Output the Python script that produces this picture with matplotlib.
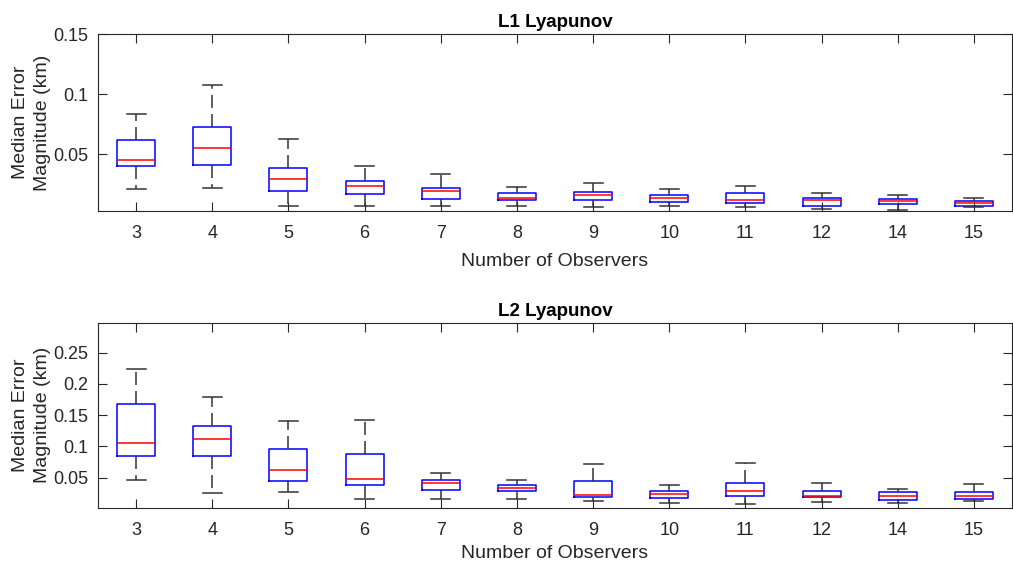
"""Box plots of median position error against observer count for L1/L2 Lyapunov orbits."""
import matplotlib
matplotlib.use("Agg")
import matplotlib.pyplot as plt

plt.rcParams["font.family"] = ["Liberation Sans", "DejaVu Sans"]

observers = ["3", "4", "5", "6", "7", "8", "9", "10", "11", "12", "14", "15"]

# L1 Lyapunov: box statistics per observer count (km)
l1_low = [0.0213, 0.0222, 0.0069, 0.0067, 0.0069, 0.0067, 0.0058, 0.0069, 0.0058, 0.0047, 0.0036, 0.0058]
l1_q1 = [0.0403, 0.0413, 0.0197, 0.0167, 0.0125, 0.0117, 0.0119, 0.0103, 0.0092, 0.0069, 0.0088, 0.0072]
l1_med = [0.0455, 0.0553, 0.0294, 0.0238, 0.0192, 0.0138, 0.0161, 0.0133, 0.0119, 0.0122, 0.0111, 0.0092]
l1_q3 = [0.0617, 0.0728, 0.0386, 0.0275, 0.0219, 0.0180, 0.0183, 0.0161, 0.0180, 0.0138, 0.0130, 0.0111]
l1_high = [0.0833, 0.1075, 0.0625, 0.0400, 0.0338, 0.0230, 0.0258, 0.0211, 0.0233, 0.0180, 0.0161, 0.0138]

# L2 Lyapunov
l2_low = [0.0464, 0.0261, 0.0267, 0.0160, 0.0160, 0.0155, 0.0123, 0.0101, 0.0085, 0.0117, 0.0101, 0.0123]
l2_q1 = [0.0853, 0.0853, 0.0443, 0.0384, 0.0309, 0.0288, 0.0192, 0.0171, 0.0203, 0.0192, 0.0144, 0.0165]
l2_med = [0.1056, 0.1115, 0.0629, 0.0485, 0.0411, 0.0341, 0.0224, 0.0240, 0.0288, 0.0213, 0.0208, 0.0203]
l2_q3 = [0.1680, 0.1323, 0.0960, 0.0875, 0.0459, 0.0379, 0.0453, 0.0293, 0.0421, 0.0288, 0.0272, 0.0277]
l2_high = [0.2235, 0.1797, 0.1408, 0.1429, 0.0576, 0.0459, 0.0725, 0.0389, 0.0736, 0.0411, 0.0325, 0.0405]

TICK_COL = "#262626"


def make_stats(low, q1, med, q3, high):
    return [dict(whislo=a, q1=b, med=c, q3=d, whishi=e, fliers=[])
            for a, b, c, d, e in zip(low, q1, med, q3, high)]


def draw_panel(ax, stats, title, ylim, yticks, yticklabels, xpad):
    pos = list(range(1, len(observers) + 1))
    ax.bxp(stats, positions=pos, widths=0.5, capwidths=0.25, showfliers=False,
           boxprops=dict(color="blue", lw=1.1),
           medianprops=dict(color="red", lw=1.1),
           whiskerprops=dict(color="#333333", lw=1.1, ls=(0, (8.5, 4))),
           capprops=dict(color="#333333", lw=1.1))
    ax.set_xlim(0.5, len(observers) + 0.5)
    ax.set_xticks(pos)
    ax.set_xticklabels(observers)
    ax.set_ylim(*ylim)
    ax.set_yticks(yticks)
    ax.set_yticklabels(yticklabels)
    ax.tick_params(direction="in", length=6.5, width=0.8, colors=TICK_COL,
                   labelcolor=TICK_COL, labelsize=13, top=True, right=True)
    ax.tick_params(axis="x", pad=10)
    ax.tick_params(axis="y", pad=7)
    for sp in ax.spines.values():
        sp.set_color(TICK_COL)
        sp.set_linewidth(0.8)
    ax.set_title(title, fontsize=13.5, fontweight="bold", pad=5)
    ax.set_xlabel("Number of Observers", fontsize=14, color=TICK_COL, labelpad=xpad)
    ax.set_ylabel("Median Error\nMagnitude (km)", fontsize=14, color=TICK_COL,
                  linespacing=1.4)
    ax.yaxis.set_label_coords(-0.0514, 0.5)


fig = plt.figure(figsize=(10.13, 5.62), dpi=100)
ax1 = fig.add_axes([0.0967, 0.6246, 0.9023, 0.3149])
ax2 = fig.add_axes([0.0967, 0.0966, 0.9023, 0.3292])

draw_panel(ax1, make_stats(l1_low, l1_q1, l1_med, l1_q3, l1_high), "L1 Lyapunov",
           (0.0028, 0.15), [0.05, 0.1, 0.15], ["0.05", "0.1", "0.15"], xpad=8)
draw_panel(ax2, make_stats(l2_low, l2_q1, l2_med, l2_q3, l2_high), "L2 Lyapunov",
           (0.002, 0.298), [0.05, 0.1, 0.15, 0.2, 0.25], ["0.05", "0.1", "0.15", "0.2", "0.25"],
           xpad=4.5)

fig.savefig("out.png", dpi=100)
